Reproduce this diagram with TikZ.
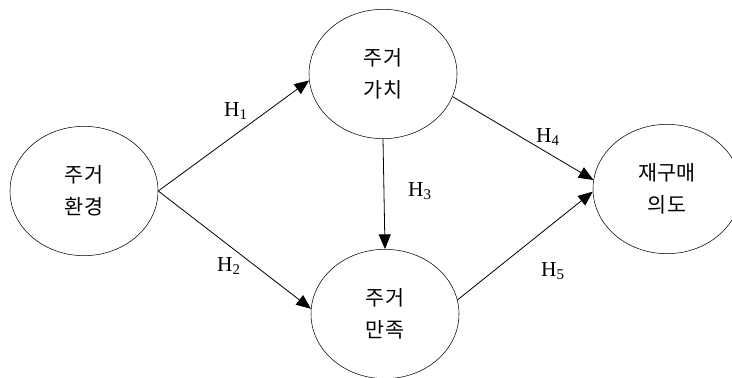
\documentclass[tikz,border=0pt]{standalone}
\usepackage{fontspec}
\setmainfont{Liberation Serif}
\newfontfamily\kor{Noto Sans CJK KR}
\usetikzlibrary{shapes.geometric,arrows.meta}

\begin{document}
\begin{tikzpicture}[
    x=0.75pt, y=-0.75pt,
    >={Triangle[length=11pt,width=9pt]},
    construct/.style={
        draw,
        ellipse,
        minimum width=111pt,
        minimum height=97pt,
        inner sep=0pt,
        align=center,
        font=\kor\fontsize{15.5pt}{24pt}\selectfont
    },
    hyp/.style={font=\fontsize{16pt}{18pt}\selectfont},
    arrow/.style={->, line width=0.6pt}
]
\clip (0,0) rectangle (732,378);

\node[construct] (env) at (84,191) {주거\\환경};
\node[construct] (value) at (383,74) {주거\\가치};
\node[construct] (satis) at (385,314) {주거\\만족};
\node[construct] (rebuy) at (667,189) {재구매\\의도};

\draw[arrow] (env.east) -- (value.185);
\draw[arrow] (env.east) -- (satis.176);
\draw[arrow] (value.south) -- (satis.north);
\draw[arrow] (value.-18) -- (rebuy.173);
\draw[arrow] (satis.11) -- (rebuy.182);

\node[hyp] (h1) at (236,111) {H\textsubscript{1}};
\node[hyp] (h2) at (229,266) {H\textsubscript{2}};
\node[hyp] (h3) at (420,191) {H\textsubscript{3}};
\node[hyp] (h4) at (548,137) {H\textsubscript{4}};
\node[hyp] (h5) at (553,271) {H\textsubscript{5}};

\end{tikzpicture}
\end{document}
